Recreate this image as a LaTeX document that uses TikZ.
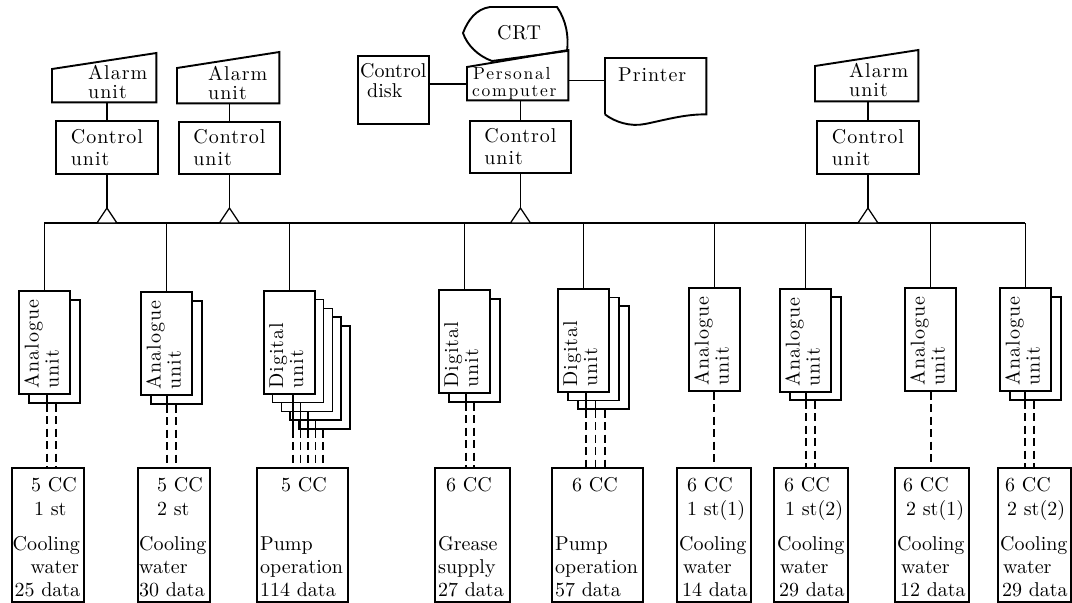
\documentclass[tikz,border=0pt]{standalone}
\usepackage{fontspec}
\setmainfont{lmroman10-regular.otf}
\newfontfamily\widefont{lmroman10-regular.otf}[LetterSpace=5]
\newfontfamily\widerfont{lmroman10-regular.otf}[LetterSpace=10]
\newcommand\cardstack[6]{%
  \foreach \k in {#4,...,0}{%
    \node[card, anchor=north west] (#1c\k) at ({#2+#5*\k},{#3+#6*\k}) {};}}
\newcommand\cardlines[5]{%
  \foreach \k in {0,...,#2}{%
    \pgfmathsetmacro\myLX{#3+#4*\k}%
    \draw[wire] (\myLX,0 |- #1c\k.south) -- (\myLX,0 |- #1c#2.south);
    \draw[sig] (\myLX,0 |- #1c#2.south) -- (\myLX,0 |- #5.north);}}
\begin{document}
\begin{tikzpicture}[x=1pt,y=-1pt,
  bx/.style={draw, line width=1.9pt, fill=white, inner sep=0pt},
  shp/.style={draw, line width=1.9pt, line join=miter},
  card/.style={draw, line width=1.7pt, fill=white, inner sep=0pt, minimum width=51pt, minimum height=103pt},
  wire/.style={line width=1.3pt},
  sig/.style={line width=1.3pt, dash pattern=on 8pt off 4.5pt},
  widetxt/.style={font={\widefont\fontsize{20}{22}\selectfont}, inner sep=0pt, align=left},
  tighttxt/.style={font={\widefont\fontsize{20}{19}\selectfont}, inner sep=0pt, align=left},
  bottxt/.style={font={\fontsize{20}{23}\selectfont}, inner sep=0pt, align=left, anchor=south west},
  toptxt/.style={font={\fontsize{20}{24}\selectfont}, inner sep=0pt, align=left, anchor=north west},
  cardtxt/.style={font={\widefont\fontsize{20}{20}\selectfont}, inner sep=0pt, align=left, rotate=90, anchor=north west},
  pctxt/.style={font={\widerfont\fontsize{17.5}{17.5}\selectfont}, inner sep=0pt, anchor=base west},
  frame/.style={minimum width=#1, inner sep=0pt, anchor=north west},
]
\useasboundingbox (0,0) rectangle (1072,603);

% ---------- alarm units ----------
\node[frame=104pt, minimum height=49pt] (al1) at (52,53) {};
\node[frame=102pt, minimum height=51pt] (al2) at (177,52) {};
\node[frame=103pt, minimum height=51pt] (al4) at (815,50) {};
\foreach \a in {al1,al2,al4}
  \draw[shp] (\a.south west) -- (\a.south east) -- (\a.north east) -- ([yshift=-16pt]\a.north west) -- cycle;
\node[tighttxt, anchor=south west] (al1t) at ([xshift=36pt,yshift=3pt]al1.south west) {Alarm\\unit};
\node[tighttxt, anchor=south west] (al2t) at ([xshift=31pt,yshift=3pt]al2.south west) {Alarm\\unit};
\node[tighttxt, anchor=south west] (al4t) at ([xshift=34pt,yshift=4pt]al4.south west) {Alarm\\unit};

% ---------- control units ----------
\node[bx, widetxt, minimum width=102pt, minimum height=53pt, anchor=north west] (cu1) at (55,120) {Control\\unit};
\node[bx, widetxt, minimum width=101pt, minimum height=52pt, anchor=north west] (cu2) at (178,121) {Control\\unit};
\node[bx, widetxt, minimum width=101pt, minimum height=52pt, anchor=north west] (cu3) at (469,120) {Control\\unit};
\node[bx, widetxt, minimum width=102pt, minimum height=53pt, anchor=north west] (cu4) at (816,120) {Control\\unit};
\draw[wire] (cu1.north |- al1.south) -- (cu1.north);
\draw[wire] (cu2.north |- al2.south) -- (cu2.north);
\draw[wire] (cu4.north |- al4.south) -- (cu4.north);

% ---------- personal computer, CRT, disk, printer ----------
\node[frame=101pt, minimum height=50pt] (pc) at (467,50) {};
\draw[shp] (pc.south west) -- (pc.south east) -- (pc.north east) -- ([yshift=-17pt]pc.north west) -- cycle;
\node[pctxt] (pct1) at (473,79.5) {Personal};
\node[pctxt] (pct2) at (472,96.5) {computer};

\draw[shp] (463,33) .. controls (468,20) and (476,9) .. (490,7) -- (557,7)
  .. controls (566,20) and (569,36) .. (567,51) -- (492,61)
  .. controls (478,56) and (467,45) .. (463,33) -- cycle;
\node[font={\widefont\fontsize{20}{22}\selectfont}, inner sep=0pt] (crt) at (519,33) {CRT};

\node[bx, minimum width=71pt, minimum height=68pt, anchor=north west] (cd) at (357,55) {};
\node[font={\fontsize{20}{20}\selectfont}, inner sep=0pt, align=left, anchor=north west] (cdt) at ([xshift=3pt,yshift=-8pt]cd.north west) {Control\\\hspace*{7pt}disk};

\node[frame=101pt, minimum height=56pt] (prn) at (605,58) {};
\draw[shp] (prn.south west) -- (prn.north west) -- (prn.north east) -- (prn.south east)
  .. controls (685,114) and (665,120) .. (645,124)
  .. controls (630,127) and (615,122) .. (prn.south west);
\node[widetxt, anchor=north west] (prnt) at (618,68) {Printer};

\coordinate (cdE) at ([yshift=6pt]cd.east);
\draw[wire] (cdE) -- (cdE -| pc.west);
\coordinate (pcE) at ([yshift=-5pt]pc.east);
\draw[wire] (pcE) -- (pcE -| prn.west);
\draw[wire] (cu3.north |- pc.south) -- (cu3.north);

% ---------- terminal boxes ----------
\node[bx, minimum width=72pt, minimum height=134pt, anchor=north west] (T1) at (11,467) {};
\node[bx, minimum width=72pt, minimum height=134pt, anchor=north west] (T2) at (137,467) {};
\node[bx, minimum width=91pt, minimum height=134pt, anchor=north west] (T3) at (256,467) {};
\node[bx, minimum width=75pt, minimum height=134pt, anchor=north west] (T4) at (434,467) {};
\node[bx, minimum width=91pt, minimum height=134pt, anchor=north west] (T5) at (551,467) {};
\node[bx, minimum width=74pt, minimum height=134pt, anchor=north west] (T6) at (676,467) {};
\node[bx, minimum width=74pt, minimum height=134pt, anchor=north west] (T7) at (773,467) {};
\node[bx, minimum width=74pt, minimum height=134pt, anchor=north west] (T8) at (894,467) {};
\node[bx, minimum width=73pt, minimum height=134pt, anchor=north west] (T9) at (997,467) {};

\node[toptxt] (T1a) at ([xshift=20pt,yshift=-10pt]T1.north west) {5 CC\\\hspace*{3pt}1 st};
\node[bottxt] (T1b) at ([xshift=1.5pt,yshift=6pt]T1.south west) {Cooling\\\hspace*{18pt}water\\\hspace*{2pt}25 data};
\node[toptxt] (T2a) at ([xshift=20pt,yshift=-10pt]T2.north west) {5 CC\\2 st};
\node[bottxt] (T2b) at ([xshift=2pt,yshift=6pt]T2.south west) {Cooling\\water\\30 data};
\node[toptxt] (T3a) at ([xshift=25pt,yshift=-10pt]T3.north west) {5 CC};
\node[bottxt] (T3b) at ([xshift=4pt,yshift=6pt]T3.south west) {Pump\\operation\\114 data};
\node[toptxt] (T4a) at ([xshift=12pt,yshift=-10pt]T4.north west) {6 CC};
\node[bottxt] (T4b) at ([xshift=4pt,yshift=6pt]T4.south west) {Grease\\supply\\27 data};
\node[toptxt] (T5a) at ([xshift=21pt,yshift=-10pt]T5.north west) {6 CC};
\node[bottxt] (T5b) at ([xshift=4pt,yshift=6pt]T5.south west) {Pump\\operation\\57 data};
\node[toptxt] (T6a) at ([xshift=11pt,yshift=-10pt]T6.north west) {6 CC\\1 st(1)};
\node[bottxt] (T6b) at ([xshift=3pt,yshift=6pt]T6.south west) {Cooling\\\hspace*{4pt}water\\\hspace*{3pt}14 data};
\node[toptxt] (T7a) at ([xshift=11pt,yshift=-10pt]T7.north west) {6 CC\\\hspace*{1pt}1 st(2)};
\node[bottxt] (T7b) at ([xshift=4pt,yshift=6pt]T7.south west) {Cooling\\\hspace*{3pt}water\\\hspace*{2pt}29 data};
\node[toptxt] (T8a) at ([xshift=9pt,yshift=-10pt]T8.north west) {6 CC\\\hspace*{3pt}2 st(1)};
\node[bottxt] (T8b) at ([xshift=3pt,yshift=6pt]T8.south west) {Cooling\\\hspace*{4pt}water\\\hspace*{3pt}12 data};
\node[toptxt] (T9a) at ([xshift=8pt,yshift=-10pt]T9.north west) {6 CC\\\hspace*{2pt}2 st(2)};
\node[bottxt] (T9b) at ([xshift=3pt,yshift=6pt]T9.south west) {Cooling\\\hspace*{3pt}water\\\hspace*{2pt}29 data};

% ---------- I/O card stacks ----------
\cardstack{A}{18}{290}{1}{10}{9}
\cardstack{B}{140}{291}{1}{10}{9}
\cardstack{C}{263}{290}{4}{8.75}{8.75}
\cardstack{D}{438}{289}{1}{10}{9}
\cardstack{E}{557}{288}{2}{10}{8.5}
\cardstack{F}{688}{287}{0}{10}{9}
\cardstack{G}{779}{288}{1}{10}{8}
\cardstack{H}{904}{287}{0}{10}{9}
\cardstack{I}{999}{287}{1}{10}{9}

\node[cardtxt] (At) at ([xshift=6pt,yshift=6pt]Ac0.south west) {Analogue\\unit};
\node[cardtxt] (Bt) at ([xshift=6pt,yshift=6pt]Bc0.south west) {Analogue\\unit};
\node[cardtxt] (Ct) at ([xshift=6pt,yshift=6pt]Cc0.south west) {Digital\\unit};
\node[cardtxt] (Dt) at ([xshift=6pt,yshift=6pt]Dc0.south west) {Digital\\unit};
\node[cardtxt] (Et) at ([xshift=6pt,yshift=6pt]Ec0.south west) {Digital\\unit};
\node[cardtxt] (Ft) at ([xshift=6pt,yshift=6pt]Fc0.south west) {Analogue\\unit};
\node[cardtxt] (Gt) at ([xshift=6pt,yshift=6pt]Gc0.south west) {Analogue\\unit};
\node[cardtxt] (Ht) at ([xshift=6pt,yshift=6pt]Hc0.south west) {Analogue\\unit};
\node[cardtxt] (It) at ([xshift=6pt,yshift=6pt]Ic0.south west) {Analogue\\unit};

\cardlines{A}{1}{47}{9}{T1}
\cardlines{B}{1}{167}{9}{T2}
\cardlines{C}{4}{293}{7.5}{T3}
\cardlines{D}{1}{466}{8}{T4}
\cardlines{E}{2}{586}{9.5}{T5}
\cardlines{F}{0}{714}{9}{T6}
\cardlines{G}{1}{806}{9}{T7}
\cardlines{H}{0}{931}{9}{T8}
\cardlines{I}{1}{1025}{9}{T9}

% ---------- bus ----------
\coordinate (bus) at (0,223);
\draw[wire] (Ac0.north |- bus) -- (Ic0.north |- bus);
\foreach \g in {A,B,C,D,E,F,G,H,I}
  \draw[wire] (\g c0.north |- bus) -- (\g c0.north);
\foreach \c in {cu1,cu2,cu3,cu4}{
  \coordinate (\c b) at (\c.south |- bus);
  \draw[wire] (\c.south) -- ([yshift=15pt]\c b);
  \draw[wire, fill=white, line join=miter] ([xshift=-10pt]\c b) -- ([xshift=10pt]\c b) -- ([yshift=15pt]\c b) -- cycle;
}
\end{tikzpicture}
\end{document}
